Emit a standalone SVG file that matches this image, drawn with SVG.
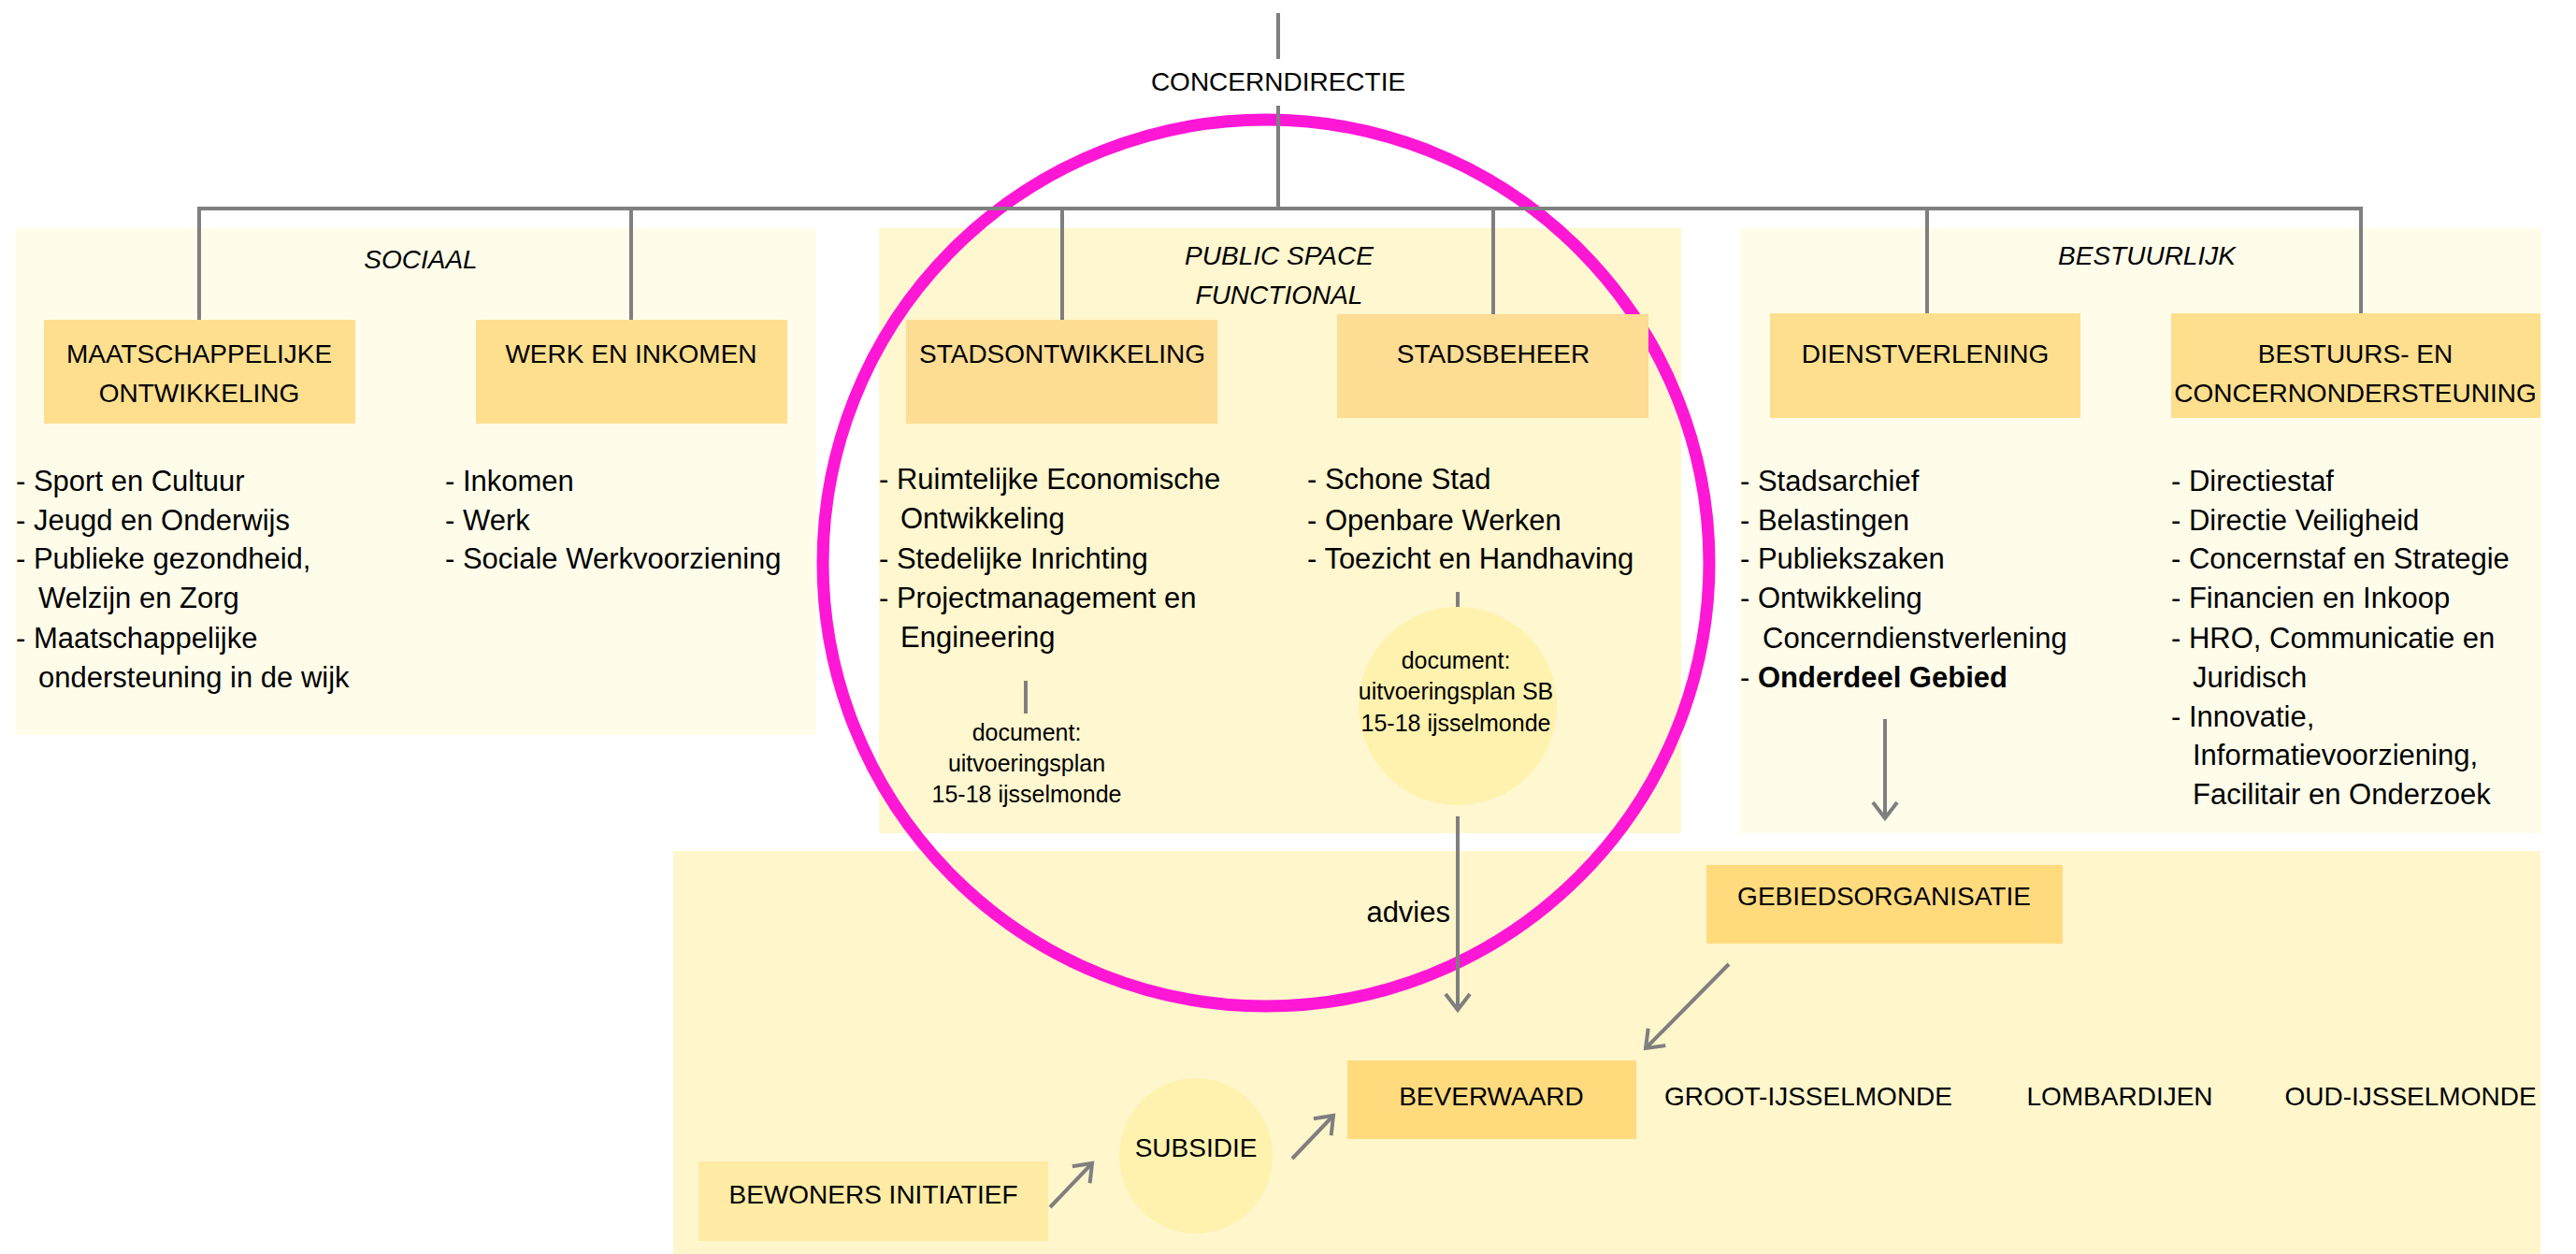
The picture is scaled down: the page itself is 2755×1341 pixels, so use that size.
<svg xmlns="http://www.w3.org/2000/svg" width="2755" height="1341" viewBox="0 0 2755 1341">
<defs>
<style>
text{font-family:"Liberation Sans",Arial,sans-serif;fill:#000;}
.lbl{font-size:28px;text-anchor:middle;}
.ttl{font-size:28px;font-style:italic;text-anchor:middle;}
.itm{font-size:31px;}
.doc{font-size:25px;text-anchor:middle;}
.ln{stroke:#7f7f7f;stroke-width:4;fill:none;}
.box{fill:#FEDF8E;}
.boxp{fill:#FDDC93;}
.boxb{fill:#FFDB7E;}
.ell{fill:#FFF2AE;}
</style>
<marker id="chev" markerUnits="userSpaceOnUse" viewBox="-22 -16 26 32" refX="0" refY="0" markerWidth="26" markerHeight="32" orient="auto">
<path d="M-17,-13 L0,0 L-17,13" fill="none" stroke="#7f7f7f" stroke-width="4" stroke-linejoin="miter"/>
</marker>
</defs>
<rect width="2755" height="1341" fill="#ffffff"/>
<g id="panels">
<rect id="panel-sociaal" x="16" y="244" width="857" height="542" fill="#FFFDEA"/>
<rect id="panel-public" x="940" y="244" width="858" height="647" fill="#FFF7CF"/>
<rect id="panel-bestuurlijk" x="1861" y="244" width="857" height="647" fill="#FFFDEA"/>
<rect id="panel-gebied" x="720" y="910" width="1997" height="431" fill="#FFF6CC"/>
<text class="ttl" x="450" y="287">SOCIAAL</text>
<text class="ttl" x="1368" y="283">PUBLIC SPACE</text>
<text class="ttl" x="1368" y="325">FUNCTIONAL</text>
<text class="ttl" x="2296" y="283">BESTUURLIJK</text>
</g>
<circle id="highlight" cx="1354" cy="602" r="474" fill="none" stroke="#FF17D6" stroke-width="13"/>
<g id="connectors">
<line class="ln" x1="1367" y1="14" x2="1367" y2="63"/>
<line class="ln" x1="1367" y1="113" x2="1367" y2="223"/>
<polyline class="ln" points="213,342 213,223 2525,223 2525,335"/>
<line class="ln" x1="675" y1="223" x2="675" y2="342"/>
<line class="ln" x1="1136" y1="223" x2="1136" y2="342"/>
<line class="ln" x1="1597" y1="223" x2="1597" y2="336"/>
<line class="ln" x1="2061" y1="223" x2="2061" y2="335"/>
<line class="ln" x1="1097" y1="728" x2="1097" y2="763"/>
<line class="ln" x1="1559" y1="633" x2="1559" y2="670"/>
<line class="ln" x1="1559" y1="873" x2="1559" y2="1080" marker-end="url(#chev)"/>
<text class="itm" x="1551" y="986" text-anchor="end">advies</text>
<line class="ln" x1="2016" y1="769" x2="2016" y2="875" marker-end="url(#chev)"/>
<line class="ln" x1="1849" y1="1031" x2="1760" y2="1121" marker-end="url(#chev)"/>
<line class="ln" x1="1123" y1="1291" x2="1168" y2="1244" marker-end="url(#chev)"/>
<line class="ln" x1="1382" y1="1239" x2="1426" y2="1193" marker-end="url(#chev)"/>
</g>
<g id="concerndirectie">
<text class="lbl" x="1367" y="97">CONCERNDIRECTIE</text>
</g>
<g id="maatschappelijke-ontwikkeling">
<rect class="box" x="47" y="342" width="333" height="111"/>
<text class="lbl" x="213" y="388">MAATSCHAPPELIJKE</text>
<text class="lbl" x="213" y="430">ONTWIKKELING</text>
<text class="itm"><tspan x="17" y="525">- Sport en Cultuur</tspan><tspan x="17" y="567">- Jeugd en Onderwijs</tspan><tspan x="17" y="608">- Publieke gezondheid,</tspan><tspan x="41" y="650">Welzijn en Zorg</tspan><tspan x="17" y="693">- Maatschappelijke</tspan><tspan x="41" y="735">ondersteuning in de wijk</tspan></text>
</g>
<g id="werk-en-inkomen">
<rect class="box" x="509" y="342" width="333" height="111"/>
<text class="lbl" x="675" y="388">WERK EN INKOMEN</text>
<text class="itm"><tspan x="476" y="525">- Inkomen</tspan><tspan x="476" y="567">- Werk</tspan><tspan x="476" y="608">- Sociale Werkvoorziening</tspan></text>
</g>
<g id="stadsontwikkeling">
<rect class="boxp" x="969" y="342" width="333" height="111"/>
<text class="lbl" x="1136" y="388">STADSONTWIKKELING</text>
<text class="itm"><tspan x="940" y="523">- Ruimtelijke Economische</tspan><tspan x="963" y="565">Ontwikkeling</tspan><tspan x="940" y="608">- Stedelijke Inrichting</tspan><tspan x="940" y="650">- Projectmanagement en</tspan><tspan x="963" y="692">Engineering</tspan></text>
</g>
<g id="document-so">
<text class="doc"><tspan x="1098" y="792">document:</tspan><tspan x="1098" y="825">uitvoeringsplan</tspan><tspan x="1098" y="858">15-18 ijsselmonde</tspan></text>
</g>
<g id="stadsbeheer">
<rect class="boxp" x="1430" y="336" width="333" height="111"/>
<text class="lbl" x="1597" y="388">STADSBEHEER</text>
<text class="itm"><tspan x="1398" y="523">- Schone Stad</tspan><tspan x="1398" y="567">- Openbare Werken</tspan><tspan x="1398" y="608">- Toezicht en Handhaving</tspan></text>
</g>
<g id="document-sb">
<ellipse class="ell" cx="1559" cy="755" rx="106" ry="106"/>
<text class="doc"><tspan x="1557" y="715">document:</tspan><tspan x="1557" y="748">uitvoeringsplan SB</tspan><tspan x="1557" y="782">15-18 ijsselmonde</tspan></text>
</g>
<g id="dienstverlening">
<rect class="box" x="1893" y="335" width="332" height="112"/>
<text class="lbl" x="2059" y="388">DIENSTVERLENING</text>
<text class="itm"><tspan x="1861" y="525">- Stadsarchief</tspan><tspan x="1861" y="567">- Belastingen</tspan><tspan x="1861" y="608">- Publiekszaken</tspan><tspan x="1861" y="650">- Ontwikkeling</tspan><tspan x="1885" y="693">Concerndienstverlening</tspan><tspan x="1861" y="735">- <tspan font-weight="bold">Onderdeel Gebied</tspan></tspan></text>
</g>
<g id="bestuurs-en-concernondersteuning">
<rect class="box" x="2322" y="335" width="395" height="112"/>
<text class="lbl" x="2519" y="388">BESTUURS- EN</text>
<text class="lbl" x="2519" y="430">CONCERNONDERSTEUNING</text>
<text class="itm"><tspan x="2322" y="525">- Directiestaf</tspan><tspan x="2322" y="567">- Directie Veiligheid</tspan><tspan x="2322" y="608">- Concernstaf en Strategie</tspan><tspan x="2322" y="650">- Financien en Inkoop</tspan><tspan x="2322" y="693">- HRO, Communicatie en</tspan><tspan x="2345" y="735">Juridisch</tspan><tspan x="2322" y="777">- Innovatie,</tspan><tspan x="2345" y="818">Informatievoorziening,</tspan><tspan x="2345" y="860">Facilitair en Onderzoek</tspan></text>
</g>
<g id="gebiedsorganisatie">
<rect class="boxb" x="1825" y="925" width="381" height="84"/>
<text class="lbl" x="2015" y="968">GEBIEDSORGANISATIE</text>
</g>
<g id="beverwaard">
<rect class="boxb" x="1441" y="1134" width="309" height="84"/>
<text class="lbl" x="1595" y="1182">BEVERWAARD</text>
</g>
<g id="groot-ijsselmonde"><text class="lbl" x="1934" y="1182">GROOT-IJSSELMONDE</text></g>
<g id="lombardijen"><text class="lbl" x="2267" y="1182">LOMBARDIJEN</text></g>
<g id="oud-ijsselmonde"><text class="lbl" x="2578" y="1182">OUD-IJSSELMONDE</text></g>
<g id="subsidie">
<ellipse class="ell" cx="1279" cy="1236" rx="82" ry="83"/>
<text class="lbl" x="1279" y="1237">SUBSIDIE</text>
</g>
<g id="bewoners-initiatief">
<rect x="747" y="1242" width="374" height="85" fill="#FFEBA3"/>
<text class="lbl" x="934" y="1287">BEWONERS INITIATIEF</text>
</g>
</svg>
